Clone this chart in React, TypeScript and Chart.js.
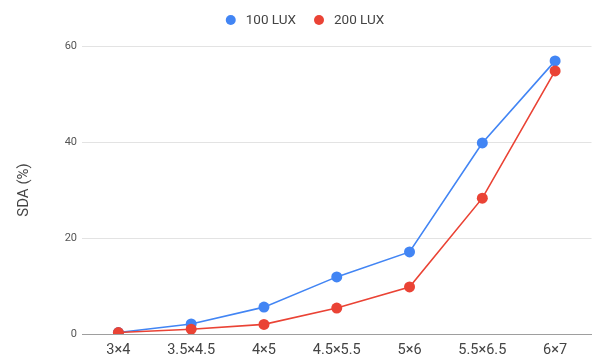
import React, { useEffect, useRef } from "react";
import { Chart, registerables } from "chart.js";

Chart.register(...registerables);

const categories = ["3×4", "3.5×4.5", "4×5", "4.5×5.5", "5×6", "5.5×6.5", "6×7"];
const lux100 = [0.3, 2.1, 5.6, 11.9, 17.1, 39.8, 56.9];
const lux200 = [0.3, 1.0, 2.0, 5.4, 9.8, 28.3, 54.8];
const seriesNames = ["100 LUX", "200 LUX"];
const seriesColors = ["#4285F4", "#EA4335"];
const yTicks = [0, 20, 40, 60];
const yTitle = "SDA (%)";

const FONT = "Roboto, 'Liberation Sans', Arial, sans-serif";

// Centered legend row with round markers above the plot.
const topLegend = {
  id: "topLegend",
  afterDraw(chart: any) {
    const ctx = chart.ctx as CanvasRenderingContext2D;
    const ds = chart.data.datasets;
    ctx.save();
    ctx.font = `13.5px ${FONT}`;
    ctx.textBaseline = "middle";
    const r = 5;
    const textOffset = 15;
    const between = 23;
    const widths = ds.map((d: any) => r + textOffset + ctx.measureText(d.label).width);
    const total = widths.reduce((a: number, b: number) => a + b, 0) + (between - r) * (ds.length - 1);
    let x = 305 - total / 2 + r;
    const y = 20;
    ds.forEach((d: any, i: number) => {
      ctx.fillStyle = d.borderColor;
      ctx.beginPath();
      ctx.arc(x, y, r, 0, Math.PI * 2);
      ctx.fill();
      ctx.fillStyle = "#444";
      ctx.fillText(d.label, x + textOffset, y + 0.5);
      x += widths[i] - r + between;
    });
    ctx.restore();
  },
};

export default function App() {
  const ref = useRef<HTMLCanvasElement>(null);

  useEffect(() => {
    if (!ref.current) return;
    const chart = new Chart(ref.current, {
      type: "line",
      data: {
        labels: categories,
        datasets: [
          {
            label: seriesNames[0],
            data: lux100,
            borderColor: seriesColors[0],
            backgroundColor: seriesColors[0],
            borderWidth: 1.6,
            pointRadius: 5.5,
            pointBorderWidth: 0,
            pointBackgroundColor: seriesColors[0],
            order: 1,
          },
          {
            label: seriesNames[1],
            data: lux200,
            borderColor: seriesColors[1],
            backgroundColor: seriesColors[1],
            borderWidth: 1.6,
            pointRadius: 5.5,
            pointBorderWidth: 0,
            pointBackgroundColor: seriesColors[1],
            order: 0,
          },
        ],
      },
      options: {
        responsive: false,
        animation: false,
        layout: { padding: { top: 46, right: 4, bottom: 0, left: 0 } },
        plugins: {
          legend: { display: false },
          tooltip: { enabled: false },
        },
        scales: {
          x: {
            offset: true,
            grid: { display: false, drawTicks: false },
            border: { display: true, color: "#9e9e9e", width: 1 },
            ticks: {
              padding: 8,
              color: "#444",
              font: { family: FONT, size: 14.5 },
              maxRotation: 0,
              autoSkip: false,
            },
            afterFit(scale: any) {
              scale.height = 24;
            },
          },
          y: {
            min: 0,
            max: 60,
            afterBuildTicks(scale: any) {
              scale.ticks = yTicks.map((v) => ({ value: v }));
            },
            grid: {
              drawTicks: false,
              color: (c: any) => (c.tick && c.tick.value === 0 ? "#9e9e9e" : "#e3e3e3"),
              lineWidth: 1,
            },
            border: { display: false },
            ticks: {
              padding: 5,
              color: "#555",
              font: { family: FONT, size: 11 },
            },
            title: {
              display: true,
              text: yTitle,
              color: "#444",
              font: { family: FONT, size: 15 },
              padding: { top: 15, bottom: 0 },
            },
            afterFit(scale: any) {
              scale.width = 82;
            },
          },
        },
      },
      plugins: [topLegend],
    });
    return () => chart.destroy();
  }, []);

  return (
    <div style={{ position: "fixed", left: 0, top: 0, width: 597, height: 358, background: "#fff" }}>
      <canvas ref={ref} width={597} height={358} style={{ display: "block" }} />
    </div>
  );
}
